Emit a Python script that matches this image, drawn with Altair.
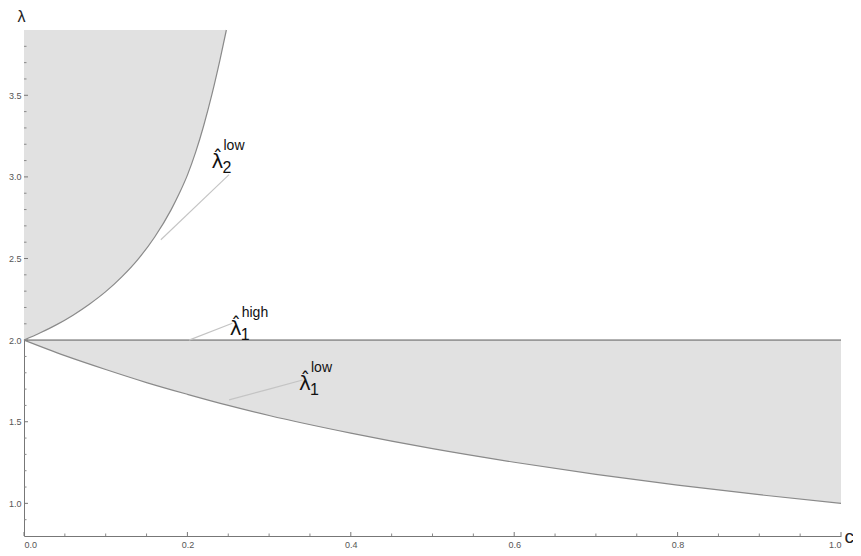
import altair as alt
import pandas as pd

# upper boundary  (lambda_2 low)
c_up = [0.0, 0.02, 0.04, 0.06, 0.08, 0.10, 0.12, 0.14, 0.16, 0.18, 0.19, 0.20, 0.21, 0.22, 0.23,
        0.24, 0.2477]
v_up = [2.0, 2.045, 2.095, 2.153, 2.220, 2.297, 2.389, 2.498, 2.632, 2.798, 2.898, 3.011, 3.15,
        3.315, 3.505, 3.72, 3.9]
# lower boundary (lambda_1 low)
c_low = [0.0, 0.05, 0.1, 0.15, 0.2, 0.25, 0.3, 0.4, 0.5, 0.6, 0.7, 0.8, 0.9, 1.0]
v_low = [2.0, 1.905, 1.82, 1.74, 1.668, 1.60, 1.538, 1.43, 1.335, 1.252, 1.178, 1.112, 1.053, 1.0]
# lambda_1 high (horizontal)
c_high = [0.0, 1.0]
v_high = [2.0, 2.0]

Y_MIN, Y_MAX = 0.8, 3.9
x_major = [0.0, 0.2, 0.4, 0.6, 0.8, 1.0]
x_minor = [0.05, 0.1, 0.15, 0.25, 0.3, 0.35, 0.45, 0.5, 0.55, 0.65, 0.7, 0.75, 0.85, 0.9, 0.95]
y_major = [1.0, 1.5, 2.0, 2.5, 3.0, 3.5]
y_minor = [0.9, 1.1, 1.2, 1.3, 1.4, 1.6, 1.7, 1.8, 1.9, 2.1, 2.2, 2.3, 2.4, 2.6, 2.7, 2.8, 2.9,
           3.1, 3.2, 3.3, 3.4, 3.6, 3.7, 3.8]

# annotation labels
lab_c = [0.2295, 0.2518, 0.3366]
lab_v = [3.057, 2.0325, 1.695]
lab_sup = ["low", "high", "low"]
lab_sub = ["2", "1", "1"]
# leader lines
lead_id = ["a", "a", "b", "b", "c", "c", "c"]
lead_c = [0.1675, 0.251, 0.202, 0.255, 0.251, 0.30, 0.341]
lead_v = [2.615, 3.014, 2.0, 2.104, 1.634, 1.700, 1.756]

W, H = 817, 506
FILL = "#e1e1e1"
LINE = "#8a8a8a"
FONT = "Liberation Sans"

xs = alt.Scale(domain=[0, 1], nice=False, zero=False)
ys = alt.Scale(domain=[Y_MIN, Y_MAX], nice=False, zero=False)

up = pd.DataFrame({"c": c_up, "v": v_up, "top": [Y_MAX] * len(c_up)})
low = pd.DataFrame({"c": c_low, "v": v_low, "two": [2.0] * len(c_low)})
high = pd.DataFrame({"c": c_high, "v": v_high})
labs = pd.DataFrame({"c": lab_c, "v": lab_v, "sup": lab_sup, "sub": lab_sub,
                     "main": ["\u03bb\u0302"] * 3})
leads = pd.DataFrame({"id": lead_id, "c": lead_c, "v": lead_v,
                      "o": list(range(len(lead_c)))})

xaxis = alt.Axis(values=x_major, format=".1f", ticks=False, labelFont=FONT, labelFontSize=9,
                 labelColor="#555555", labelPadding=4, domainColor="#777777", domainWidth=1,
                 grid=False, title="c", titleFont=FONT, titleFontSize=19, titleFontWeight="normal",
                 titleColor="#222222", titleAlign="left", titleBaseline="alphabetic",
                 titleX=820, titleY=6, titleAngle=0)
yaxis = alt.Axis(values=y_major, format=".1f", ticks=False, labelFont=FONT, labelFontSize=9,
                 labelColor="#555555", labelPadding=3, domainColor="#777777", domainWidth=1,
                 grid=False, title="\u03bb", titleFont=FONT, titleFontSize=16,
                 titleFontWeight="normal", titleColor="#222222", titleAlign="left",
                 titleBaseline="alphabetic", titleX=-7, titleY=-9, titleAngle=0)

upper_area = alt.Chart(up).mark_area(color=FILL, interpolate="monotone").encode(
    x=alt.X("c:Q", scale=xs, axis=xaxis), y=alt.Y("v:Q", scale=ys, axis=yaxis), y2="top:Q")
upper_line = alt.Chart(up).mark_line(color=LINE, strokeWidth=1.2, interpolate="monotone").encode(
    x="c:Q", y="v:Q")
lower_area = alt.Chart(low).mark_area(color=FILL, interpolate="monotone").encode(
    x="c:Q", y="v:Q", y2="two:Q")
lower_line = alt.Chart(low).mark_line(color=LINE, strokeWidth=1.2, interpolate="monotone").encode(
    x="c:Q", y="v:Q")
high_line = alt.Chart(high).mark_line(color="#999999", strokeWidth=1.6).encode(x="c:Q", y="v:Q")

lead_lines = alt.Chart(leads).mark_line(color="#c4c4c4", strokeWidth=1.1,
                                        interpolate="monotone").encode(
    x="c:Q", y="v:Q", detail="id:N", order="o:Q")

main_t = alt.Chart(labs).mark_text(font="DejaVu Sans", fontSize=20, align="left",
                                   baseline="alphabetic", color="#111111").encode(
    x="c:Q", y="v:Q", text="main:N")
sup_t = alt.Chart(labs).mark_text(font=FONT, fontSize=14, align="left", baseline="alphabetic",
                                  color="#111111", dx=12, dy=-18).encode(
    x="c:Q", y="v:Q", text="sup:N")
sub_t = alt.Chart(labs).mark_text(font=FONT, fontSize=16, align="left", baseline="alphabetic",
                                  color="#111111", dx=11, dy=5).encode(
    x="c:Q", y="v:Q", text="sub:N")

# inward tick marks (positions from the scales)
xt_major = alt.Chart(pd.DataFrame({"t": x_major})).mark_rule(color="#777777", strokeWidth=1).encode(
    x="t:Q", y=alt.value(H), y2=alt.value(H - 4))
xt_minor = alt.Chart(pd.DataFrame({"t": x_minor})).mark_rule(color="#888888", strokeWidth=1).encode(
    x="t:Q", y=alt.value(H), y2=alt.value(H - 2.5))
yt_major = alt.Chart(pd.DataFrame({"t": y_major})).mark_rule(color="#777777", strokeWidth=1).encode(
    y="t:Q", x=alt.value(0), x2=alt.value(4))
yt_minor = alt.Chart(pd.DataFrame({"t": y_minor})).mark_rule(color="#888888", strokeWidth=1).encode(
    y="t:Q", x=alt.value(0), x2=alt.value(2.5))

chart = alt.layer(
    upper_area, lower_area, upper_line, lower_line, high_line, lead_lines,
    main_t, sup_t, sub_t, xt_major, xt_minor, yt_major, yt_minor
).properties(
    width=W, height=H,
    padding={"left": 16, "top": 22, "right": 12, "bottom": 16},
    autosize=alt.AutoSizeParams(type="none"),
    background="white",
).configure_view(stroke=None)

chart.save("out.html", embed_options={"renderer": "svg", "actions": False})
